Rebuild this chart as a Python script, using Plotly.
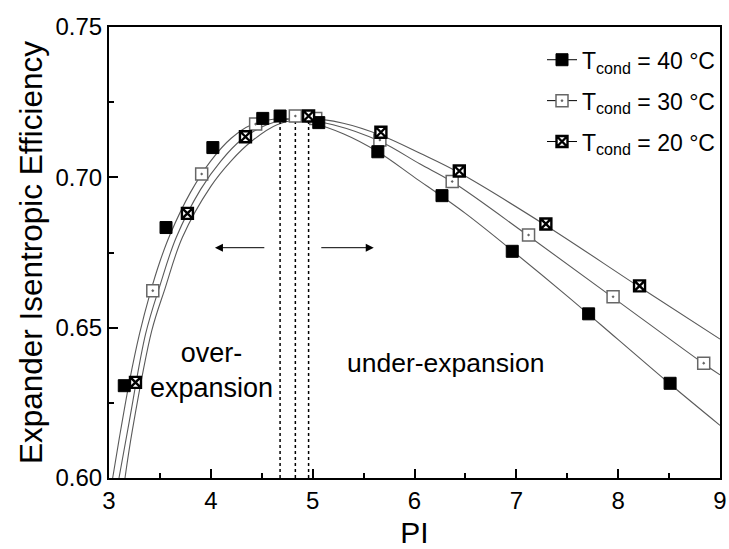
import plotly.graph_objects as go

# ---------------- data ----------------
pi_40 = [3.15, 3.56, 4.02, 4.51, 4.68, 5.06, 5.64, 6.27, 6.96, 7.71, 8.51]
eff_40 = [0.6307, 0.6833, 0.7099, 0.7196, 0.7204, 0.7182, 0.7085, 0.6939, 0.6754, 0.6546, 0.6315]

pi_30 = [3.43, 3.91, 4.44, 4.83, 5.03, 5.66, 6.37, 7.12, 7.95, 8.84]
eff_30 = [0.6623, 0.7011, 0.7177, 0.7204, 0.7196, 0.7124, 0.6986, 0.6808, 0.6603, 0.6382]

pi_20 = [3.26, 3.77, 4.34, 4.96, 5.67, 6.44, 7.29, 8.21]
eff_20 = [0.6318, 0.6880, 0.7135, 0.7204, 0.7150, 0.7021, 0.6845, 0.6639]

# fitted curves, read at points along each line
fit_pi_40 = [3.036, 3.10, 3.20, 3.30, 3.40, 3.50, 3.60, 3.80, 4.00, 4.20, 4.40, 4.68,
             5.00, 5.30, 5.64, 6.00, 6.50, 7.00, 7.50, 8.00, 8.50, 9.00]
fit_eff_40 = [0.600, 0.613, 0.632, 0.648, 0.661, 0.672, 0.681, 0.695, 0.7055, 0.7130, 0.7175, 0.7195,
              0.7180, 0.7145, 0.7085, 0.7000, 0.6880, 0.6745, 0.6605, 0.6460, 0.6315, 0.6175]

fit_pi_30 = [3.098, 3.20, 3.36, 3.50, 3.66, 3.90, 4.10, 4.30, 4.55, 4.83,
             5.20, 5.66, 6.055, 6.37, 7.12, 7.95, 8.84, 9.00]
fit_eff_30 = [0.600, 0.619, 0.648, 0.664, 0.680, 0.696, 0.7055, 0.7125, 0.7175, 0.7195,
              0.7175, 0.7120, 0.7044, 0.6985, 0.6805, 0.6600, 0.6380, 0.6343]

fit_pi_20 = [3.157, 3.23, 3.42, 3.55, 3.72, 4.00, 4.20, 4.40, 4.65, 4.96,
             5.30, 5.67, 6.055, 6.44, 7.29, 8.21, 9.00]
fit_eff_20 = [0.600, 0.616, 0.649, 0.663, 0.680, 0.697, 0.7055, 0.7120, 0.7175, 0.7195,
              0.7180, 0.7140, 0.7080, 0.7015, 0.6840, 0.6635, 0.6462]

peak_pi = [4.68, 4.83, 4.96]
peak_eff = [0.7195, 0.7195, 0.7195]

labels = ["T<sub>cond</sub> = 40 °C", "T<sub>cond</sub> = 30 °C", "T<sub>cond</sub> = 20 °C"]

FONT = "Liberation Sans, Arial, sans-serif"
CURVE = "#5a5a5a"

styles = [
    dict(symbol="square", color="black", size=12, line=dict(color="black", width=1)),
    dict(symbol="square-dot", color="white", size=12, line=dict(color="#666666", width=1.5)),
    dict(symbol="square-x", color="white", size=11, line=dict(color="black", width=2.4)),
]

fig = go.Figure()

# curves
for fx, fy in [(fit_pi_40, fit_eff_40), (fit_pi_30, fit_eff_30), (fit_pi_20, fit_eff_20)]:
    fig.add_trace(go.Scatter(x=fx, y=fy, mode="lines", line=dict(color=CURVE, width=1.1, shape="spline", smoothing=1.0),
                             showlegend=False, hoverinfo="skip"))

# dotted vertical lines at maxima
for px, py in zip(peak_pi, peak_eff):
    fig.add_trace(go.Scatter(x=[px, px], y=[0.60, py], mode="lines",
                             line=dict(color="black", width=1.5, dash="dot"), showlegend=False))

# markers
for (mx, my), st in zip([(pi_30, eff_30), (pi_40, eff_40), (pi_20, eff_20)], [styles[1], styles[0], styles[2]]):
    fig.add_trace(go.Scatter(x=mx, y=my, mode="markers", marker=st, showlegend=False))

# legend-only entries
for i, (lab, st) in enumerate(zip(labels, styles)):
    fig.add_trace(go.Scatter(x=[None], y=[None], mode="lines+markers", name=lab,
                             line=dict(color="black", width=1), marker=st, legendgroup=str(i)))

# text labels
fig.add_annotation(x=4.01, y=0.6356, text="over-<br>expansion", showarrow=False,
                   font=dict(family=FONT, size=27, color="black"), xref="x", yref="y")
fig.add_annotation(x=6.30, y=0.6383, text="under-expansion", showarrow=False,
                   font=dict(family=FONT, size=26.5, color="black"), xref="x", yref="y")

# arrows
fig.add_annotation(x=4.04, y=0.6766, ax=4.54, ay=0.6766, xref="x", yref="y", axref="x", ayref="y",
                   text="", showarrow=True, arrowhead=2, arrowsize=1.6, arrowwidth=1, arrowcolor="black")
fig.add_annotation(x=5.60, y=0.6766, ax=5.07, ay=0.6766, xref="x", yref="y", axref="x", ayref="y",
                   text="", showarrow=True, arrowhead=2, arrowsize=1.6, arrowwidth=1, arrowcolor="black")

axis_common = dict(showgrid=False, zeroline=False, showline=True, linecolor="black", linewidth=2,
                   mirror=True, ticks="inside", ticklen=9, tickwidth=2, tickcolor="black", automargin=False,
                   tickfont=dict(family=FONT, size=24, color="black"))

fig.update_xaxes(range=[3, 9], dtick=1, tick0=3,
                 minor=dict(dtick=0.5, ticks="inside", ticklen=5, tickwidth=2, tickcolor="black"),
                 title=dict(text="PI", font=dict(family=FONT, size=30, color="black"), standoff=15),
                 **axis_common)
fig.update_yaxes(range=[0.60, 0.75], dtick=0.05, tick0=0.60, tickformat=".2f",
                 minor=dict(dtick=0.025, ticks="inside", ticklen=5, tickwidth=2, tickcolor="black"),
                 title=dict(text="Expander Isentropic Efficiency", font=dict(family=FONT, size=31.5, color="black"),
                            standoff=3),
                 **axis_common)

fig.update_layout(
    width=729, height=549,
    margin=dict(l=109, r=9, t=27, b=71, autoexpand=False),
    plot_bgcolor="white", paper_bgcolor="white",
    font=dict(family=FONT, color="black"),
    legend=dict(x=1.0, y=0.975, xanchor="right", yanchor="top", bgcolor="rgba(0,0,0,0)",
                font=dict(family=FONT, size=23, color="black"), traceorder="grouped", tracegroupgap=8),
)

fig.write_html("out.html")
